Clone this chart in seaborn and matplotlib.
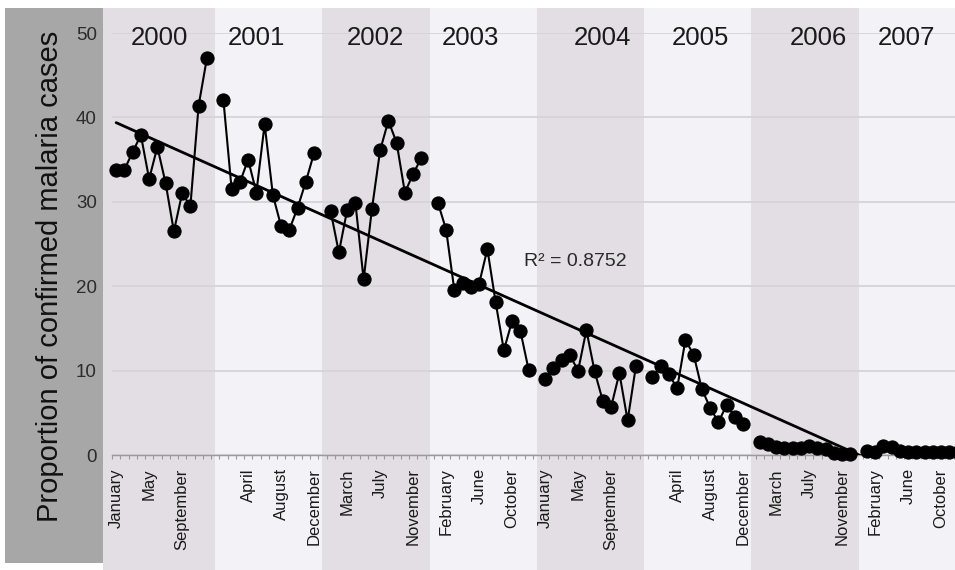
import numpy as np
import pandas as pd
import matplotlib
matplotlib.use("Agg")
import matplotlib.pyplot as plt
from matplotlib.patches import Rectangle
import seaborn as sns

# ---------------- data ----------------
years = [2000, 2001, 2002, 2003, 2004, 2005, 2006, 2007]
months = ["January", "February", "March", "April", "May", "June", "July",
          "August", "September", "October", "November", "December"]

v2000 = [33.8, 33.8, 35.9, 37.9, 32.7, 36.5, 32.2, 26.5, 31.0, 29.5, 41.4, 47.0]
v2001 = [42.1, 31.5, 32.3, 35.0, 31.1, 39.2, 30.8, 27.1, 26.7, 29.3, 32.4, 35.8]
v2002 = [28.9, 24.0, 29.0, 29.9, 20.8, 29.1, 36.1, 39.6, 37.0, 31.1, 33.3, 35.2]
v2003 = [29.9, 26.7, 19.5, 20.4, 19.9, 20.3, 24.4, 18.1, 12.4, 15.9, 14.7, 10.1]
v2004 = [9.0, 10.3, 11.2, 11.8, 10.0, 14.8, 9.9, 6.4, 5.7, 9.7, 4.1, 10.5]
v2005 = [9.2, 10.5, 9.6, 7.9, 13.6, 11.9, 7.8, 5.6, 3.9, 5.9, 4.5, 3.7]
v2006 = [1.5, 1.3, 0.9, 0.8, 0.8, 0.8, 1.1, 0.8, 0.7, 0.2, 0.1, 0.1]
v2007 = [0.5, 0.3, 1.1, 0.9, 0.5, 0.3, 0.3, 0.3, 0.3, 0.3, 0.3, 0.3]
series = [v2000, v2001, v2002, v2003, v2004, v2005, v2006, v2007]

r2_text = "R² = 0.8752"
ylabel = "Proportion of confirmed malaria cases"

# ---------------- build category table (12 months + 1 blank per year) ----------------
rows = []
cat_labels = []
for yi, (yr, vals) in enumerate(zip(years, series)):
    for mi, v in enumerate(vals):
        rows.append({"year": yr, "slot": yi * 13 + mi, "value": v})
        cat_labels.append(months[mi])
    cat_labels.append("")  # blank separator category
df = pd.DataFrame(rows)
n_cat = len(cat_labels)

# ---------------- style ----------------
sns.set_style("white")
plt.rcParams["font.family"] = ["Liberation Sans", "DejaVu Sans"]

W, H = 955, 570
fig = plt.figure(figsize=(W / 100, H / 100), dpi=100, facecolor="white")

# pixel-based layout
ax_left_px, ax_right_px = 112, 970
ax_bottom_px, ax_top_px = 455, 33
ax = fig.add_axes([ax_left_px / W, (H - ax_bottom_px) / H,
                   (ax_right_px - ax_left_px) / W, (ax_bottom_px - ax_top_px) / H])
ax.set_facecolor("none")

# left grey panel
fig.patches.append(Rectangle((5 / W, (H - 563) / H), (103 - 5) / W, (563 - 8) / H,
                             transform=fig.transFigure, facecolor="#a7a7a7",
                             edgecolor="none", zorder=-1))

ax.set_xlim(-0.5, n_cat - 0.5)
ax.set_ylim(0, 50)

# alternating year bands
band_edges = [-1.58] + [yi * 13 + 12 for yi in range(len(years) - 1)] + [n_cat + 2]
ylo = (ax_bottom_px - H) / (ax_bottom_px - ax_top_px)
yhi = (ax_bottom_px - 8) / (ax_bottom_px - ax_top_px)
for i in range(len(years)):
    col = "#e2dee3" if i % 2 == 0 else "#f3f2f6"
    sp = ax.axvspan(band_edges[i], band_edges[i + 1], ymin=ylo, ymax=yhi,
                    facecolor=col, edgecolor="none", zorder=0.2)
    sp.set_clip_on(False)

# grid
ax.set_axisbelow(True)
ax.yaxis.grid(True, color="#d6d3d9", linewidth=1.3, zorder=0.5)
ax.xaxis.grid(False)

# data line with markers, a separate line per year
sns.lineplot(data=df, x="slot", y="value", units="year", estimator=None,
             color="black", linewidth=1.5, marker="o", markersize=9.5,
             markeredgecolor="black", ax=ax, legend=False, clip_on=False, zorder=4)

# linear trend line
sns.regplot(data=df, x="slot", y="value", scatter=False, ci=None, truncate=True,
            color="black", line_kws={"linewidth": 2.0, "zorder": 3}, ax=ax)

# year labels
year_pos = [5.3, 17.0, 31.4, 43.0, 59.0, 70.8, 85.1, 95.8]
for yr, xp in zip(years, year_pos):
    ax.text(xp, 49.4, str(yr), ha="center", va="center", fontsize=18.5,
            color="#1a1a1a", zorder=5)

ax.text(55.6, 22.9, r2_text, ha="center", va="center", fontsize=14,
        color="#2a2a2a", zorder=5)

# x ticks: labels every 4th category, minor ticks between categories
major = list(range(0, n_cat, 4))
ax.set_xticks(major)
ax.set_xticklabels([cat_labels[i] for i in major], rotation=90, fontsize=12,
                   color="#1a1a1a", va="top", ha="center")
ax.set_xticks(np.arange(-0.5, n_cat, 1.0), minor=True)
ax.tick_params(axis="x", which="major", length=0, pad=9.5)
ax.tick_params(axis="x", which="minor", length=3, width=0.8, color="#9a9a9a",
               direction="out", bottom=True)

ax.set_yticks([0, 10, 20, 30, 40, 50])
ax.tick_params(axis="y", length=0, pad=11, labelsize=13.5, labelcolor="#2b2b2b")

ax.set_xlabel("")
ax.set_ylabel("")
for s in ["top", "right", "left"]:
    ax.spines[s].set_visible(False)
ax.spines["bottom"].set_color("#9a9a9a")
ax.spines["bottom"].set_linewidth(1.0)

fig.text(50 / W, 1 - 276 / H, ylabel, rotation=90, ha="center", va="center",
         fontsize=21, color="#111111")

fig.savefig("out.png", dpi=100, facecolor="white")
